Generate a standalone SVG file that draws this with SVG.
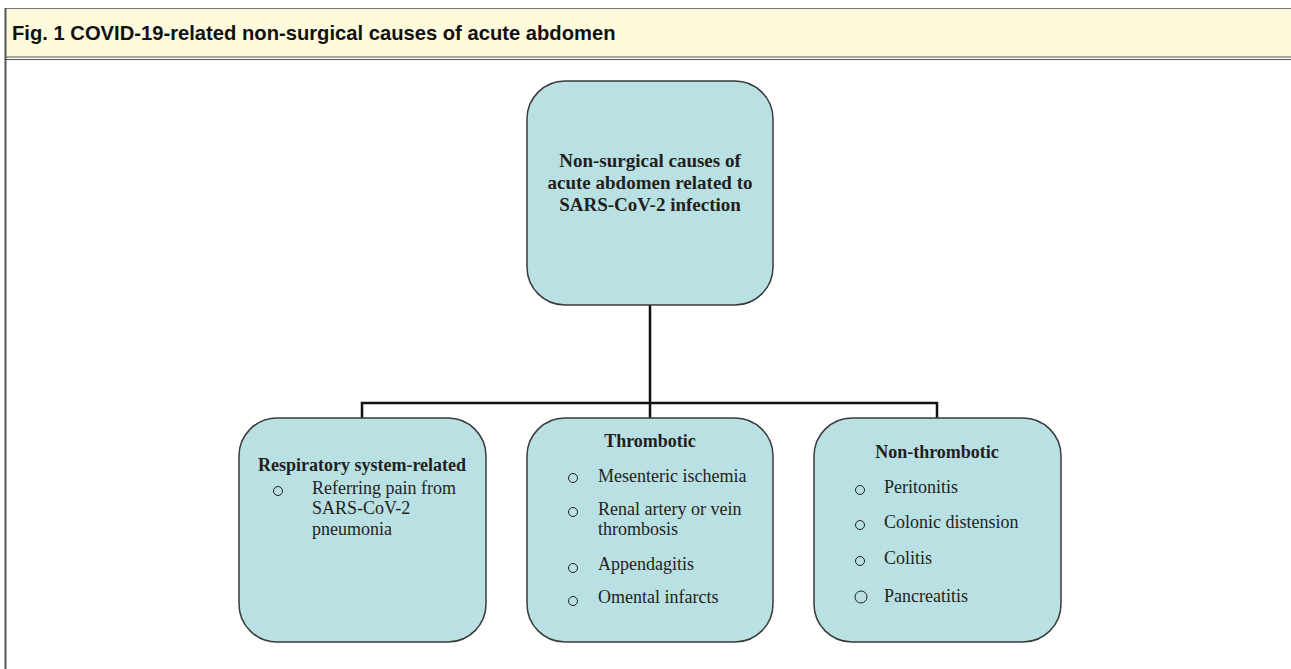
<svg xmlns="http://www.w3.org/2000/svg" width="1291" height="669" viewBox="0 0 1291 669">
<style>
.box{fill:#b9e0e3;stroke:#3a3a3a;stroke-width:1.5}
.t{font-family:"Liberation Serif","Times New Roman",serif;font-size:18px;fill:#231f20}
.b{font-weight:bold}
.r{font-size:19px}
.c{text-anchor:middle}
.bul{fill:none;stroke:#231f20;stroke-width:1}
.conn{fill:none;stroke:#111;stroke-width:2.5}
</style>
<rect x="0" y="0" width="1291" height="669" fill="#fff"/>
<g id="header">
<rect x="5" y="8" width="1286" height="50" fill="#fffadc"/>
<line x1="5" y1="8.5" x2="1291" y2="8.5" stroke="#777" stroke-width="1"/>
<line x1="5" y1="57" x2="1291" y2="57" stroke="#555" stroke-width="1"/>
<line x1="5" y1="59.5" x2="1291" y2="59.5" stroke="#555" stroke-width="1"/>
<line x1="5.5" y1="8" x2="5.5" y2="669" stroke="#555" stroke-width="2"/>
<text x="12" y="40" font-family="'Liberation Sans',Arial,sans-serif" font-weight="bold" font-size="20.2" fill="#111">Fig. 1 COVID-19-related non-surgical causes of acute abdomen</text>
</g>
<g id="connectors">
<path class="conn" d="M650 305 V403 M362 418 V403 H937 V418 M650 403 V418"/>
</g>
<g id="root">
<rect class="box" x="527" y="81" width="246" height="224" rx="38"/>
<text class="t b c r" x="650" y="167">Non-surgical causes of</text>
<text class="t b c r" x="650" y="189">acute abdomen related to</text>
<text class="t b c r" x="650" y="211">SARS-CoV-2 infection</text>
</g>
<g id="respiratory">
<rect class="box" x="239" y="418" width="247" height="224" rx="38"/>
<text class="t b c" x="362" y="471">Respiratory system-related</text>
<circle class="bul" cx="278" cy="491" r="4.5"/>
<text class="t" x="312" y="494">Referring pain from</text>
<text class="t" x="312" y="514">SARS-CoV-2</text>
<text class="t" x="312" y="535">pneumonia</text>
</g>
<g id="thrombotic">
<rect class="box" x="527" y="418" width="246" height="224" rx="38"/>
<text class="t b c" x="650" y="447">Thrombotic</text>
<circle class="bul" cx="573" cy="478" r="4.5"/>
<text class="t" x="598" y="482">Mesenteric ischemia</text>
<circle class="bul" cx="573" cy="512" r="4.5"/>
<text class="t" x="598" y="515">Renal artery or vein</text>
<text class="t" x="598" y="535">thrombosis</text>
<circle class="bul" cx="573" cy="568" r="4.5"/>
<text class="t" x="598" y="570">Appendagitis</text>
<circle class="bul" cx="573" cy="601" r="4.5"/>
<text class="t" x="598" y="603">Omental infarcts</text>
</g>
<g id="nonthrombotic">
<rect class="box" x="814" y="418" width="247" height="224" rx="38"/>
<text class="t b c" x="937" y="458">Non-thrombotic</text>
<circle class="bul" cx="860" cy="490" r="4.5"/>
<text class="t" x="884" y="493">Peritonitis</text>
<circle class="bul" cx="860" cy="525" r="4.5"/>
<text class="t" x="884" y="528">Colonic distension</text>
<circle class="bul" cx="860" cy="561" r="4.5"/>
<text class="t" x="884" y="564">Colitis</text>
<circle class="bul" cx="861" cy="597" r="6"/>
<text class="t" x="884" y="602">Pancreatitis</text>
</g>
</svg>
